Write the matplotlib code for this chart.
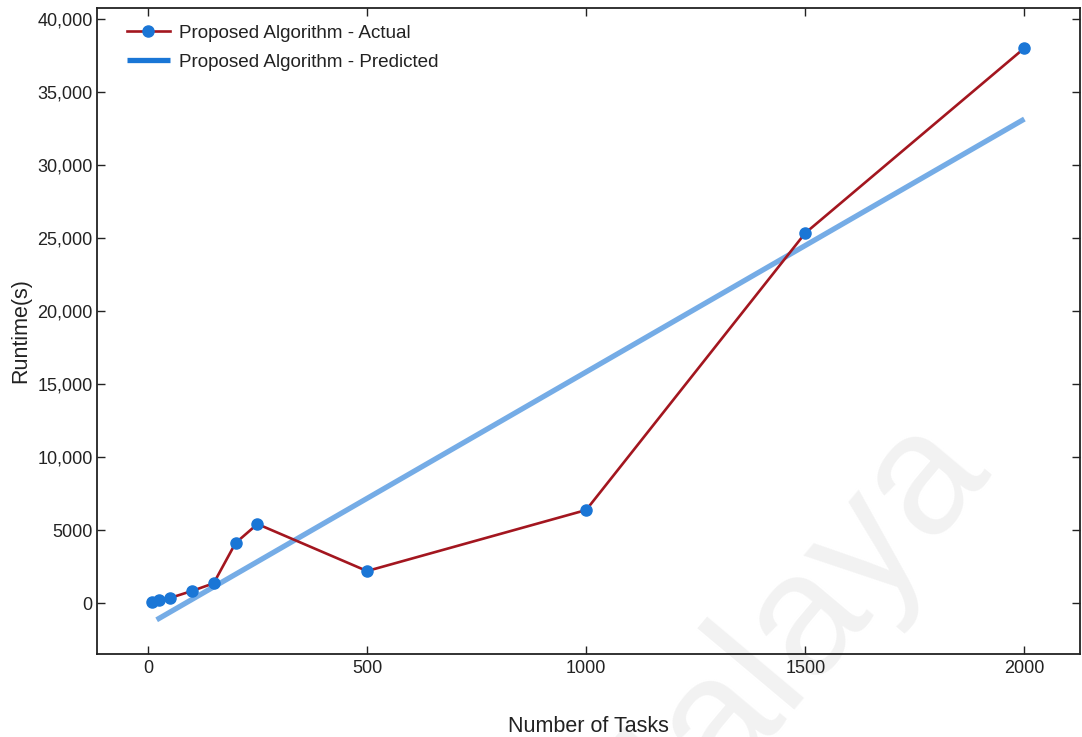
import matplotlib
matplotlib.use('Agg')
import matplotlib.pyplot as plt
from matplotlib.lines import Line2D
from matplotlib.ticker import FuncFormatter

plt.rcParams['font.family'] = ['Liberation Sans', 'DejaVu Sans']

tasks = [10, 25, 50, 100, 150, 200, 250, 500, 1000, 1500, 2000]
runtime_actual = [90, 200, 340, 820, 1350, 4110, 5410, 2190, 6370, 25340, 38010]

# predicted runtime is a straight line, given by its two end points
pred_tasks = [20, 2000]
runtime_pred = [-1150, 33150]

actual_label = 'Proposed Algorithm - Actual'
pred_label = 'Proposed Algorithm - Predicted'

red = '#a3161f'
blue = '#1a76d6'
text_col = '#222222'


def yfmt(v, pos):
    if abs(v) >= 10000:
        return '{:,.0f}'.format(v)
    return '{:.0f}'.format(v)


def main():
    fig = plt.figure(figsize=(10.82, 7.37), dpi=100)
    ax = fig.add_axes([0.0901, 0.1126, 0.9081, 0.8765])
    ax.patch.set_alpha(0)

    # faint watermark behind the plot
    fig.text(0.715, 0.12, 'Malaya', rotation=50, fontsize=125,
             color='#f2f2f2', ha='center', va='center', zorder=-1)

    ax.plot(pred_tasks, runtime_pred, color=blue, lw=3.8, alpha=0.6,
            solid_capstyle='butt', zorder=2)
    ax.plot(tasks, runtime_actual, color=red, lw=1.9, marker='o',
            markersize=8, markerfacecolor=blue, markeredgecolor=blue, zorder=3)

    ax.set_xlim(-115, 2127)
    ax.set_ylim(-3493, 40753)
    ax.set_xticks([0, 500, 1000, 1500, 2000])
    ax.set_yticks(range(0, 40001, 5000))
    ax.yaxis.set_major_formatter(FuncFormatter(yfmt))

    ax.tick_params(direction='in', length=6, width=1, top=True, right=True,
                   labelsize=13, labelcolor=text_col, color='#222222')
    ax.tick_params(axis='x', pad=4)
    ax.tick_params(axis='y', pad=3.5)
    for s in ax.spines.values():
        s.set_linewidth(1.3)
        s.set_color('#222222')

    ax.set_xlabel('Number of Tasks', fontsize=15.5, color=text_col)
    ax.set_ylabel('Runtime(s)', fontsize=15.5, color=text_col)
    ax.xaxis.set_label_coords(0.5, -0.096)
    ax.yaxis.set_label_coords(-0.0677, 0.5)

    handles = [
        Line2D([], [], color=red, lw=1.9, marker='o', markersize=8,
               markerfacecolor=blue, markeredgecolor=blue),
        Line2D([], [], color=blue, lw=3.8, solid_capstyle='butt'),
    ]
    ax.legend(handles, [actual_label, pred_label], loc='upper left',
              bbox_to_anchor=(0.022, 0.986), frameon=False, fontsize=13.6,
              handlelength=2.3, handletextpad=0.45, labelspacing=0.62,
              borderaxespad=0.0, borderpad=0.4, labelcolor=text_col)

    fig.savefig('out.png', dpi=100)


if __name__ == '__main__':
    main()
